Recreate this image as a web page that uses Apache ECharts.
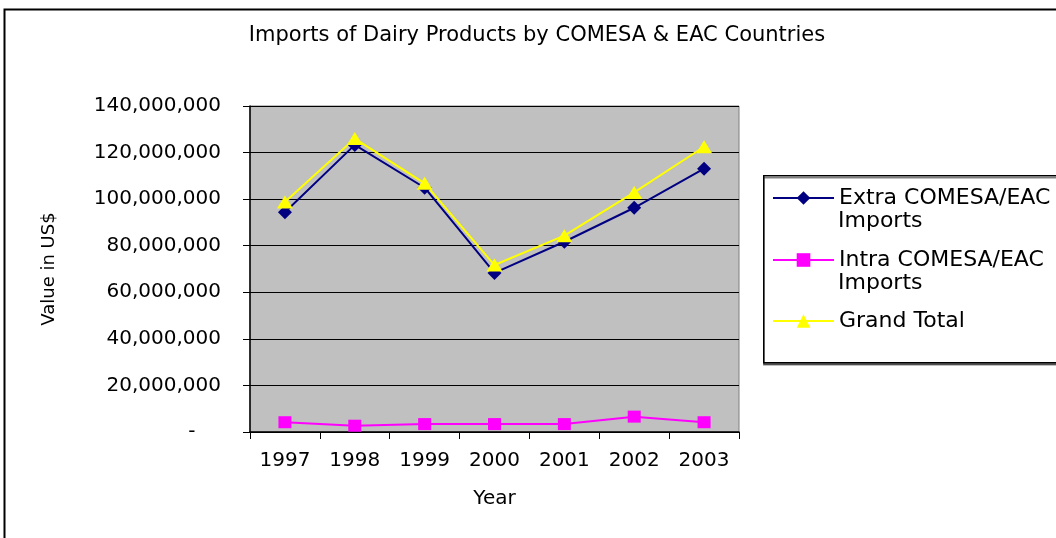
<!DOCTYPE html>
<html>
<head>
<meta charset="utf-8">
<script src="https://cdn.jsdelivr.net/npm/echarts@6/dist/echarts.min.js"></script>
<style>
  html, body { margin: 0; padding: 0; background: #fff; }
  #chart { width: 1056px; height: 538px; }
</style>
</head>
<body>
<div id="chart"></div>
<script>
// data
const years = ['1997', '1998', '1999', '2000', '2001', '2002', '2003'];
const extraImports = [94400000, 123300000, 104900000, 68300000, 81700000, 96300000, 113100000];
const intraImports = [4200000, 2700000, 3400000, 3400000, 3400000, 6600000, 4200000];
const grandTotal = [98800000, 126000000, 106800000, 71700000, 84300000, 102900000, 122500000];
const seriesNames = ['Extra COMESA/EAC Imports', 'Intra COMESA/EAC Imports', 'Grand Total'];

const font = 'DejaVu Sans';
const chart = echarts.init(document.getElementById('chart'));

// one legend per item so the symbol lines up with the first text line
const legendTops = [187, 249, 310];
const legendFirstLine = ['Extra COMESA/EAC', 'Intra COMESA/EAC', 'Grand Total'];

const option = {
  animation: false,
  title: {
    text: 'Imports of Dairy Products by COMESA & EAC Countries',
    left: 537,
    top: 25,
    textAlign: 'center',
    padding: 0,
    textStyle: { fontFamily: font, fontSize: 21, fontWeight: 'normal', color: '#000' }
  },
  legend: seriesNames.map((name, i) => ({
    data: [name],
    left: 772,
    top: legendTops[i],
    padding: 0,
    itemWidth: 61,
    itemHeight: 17,
    formatter: () => legendFirstLine[i],
    textStyle: { fontFamily: font, fontSize: 22, color: '#000' }
  })),
  graphic: [
    {
      type: 'rect', left: 2, top: 7, z: -10,
      shape: { width: 1100, height: 600 },
      style: { fill: 'none', stroke: '#000', lineWidth: 2 }
    },
    {
      type: 'rect', left: 763, top: 175, z: -10,
      shape: { width: 400, height: 187 },
      style: { fill: '#fff', stroke: '#000', lineWidth: 1.5, shadowColor: 'rgba(0,0,0,0.5)', shadowOffsetY: 2 }
    },
    { type: 'text', left: 838, top: 210, style: { text: 'Imports', font: '22px "DejaVu Sans"', fill: '#000' } },
    { type: 'text', left: 838, top: 272, style: { text: 'Imports', font: '22px "DejaVu Sans"', fill: '#000' } }
  ],
  grid: {
    left: 250,
    right: 317,
    top: 106,
    bottom: 106,
    show: true,
    backgroundColor: '#C0C0C0',
    borderColor: '#808080',
    borderWidth: 1
  },
  xAxis: {
    type: 'category',
    data: years,
    boundaryGap: true,
    name: 'Year',
    nameLocation: 'middle',
    nameGap: 57,
    nameTextStyle: { fontFamily: font, fontSize: 20, color: '#000' },
    axisLine: { lineStyle: { color: '#000', width: 1.5 } },
    axisTick: { show: true, length: 7, lineStyle: { color: '#000' } },
    axisLabel: { margin: 19, fontFamily: font, fontSize: 20, color: '#000' },
    splitLine: { show: false }
  },
  yAxis: {
    type: 'value',
    min: 0,
    max: 140000000,
    interval: 20000000,
    name: 'Value in US$',
    nameLocation: 'middle',
    nameRotate: 90,
    nameGap: 192,
    nameTextStyle: { fontFamily: font, fontSize: 18, color: '#000' },
    axisLine: { show: true, lineStyle: { color: '#000', width: 1.5 } },
    axisTick: { show: true, length: 7, lineStyle: { color: '#000' } },
    axisLabel: {
      margin: 29,
      fontFamily: font,
      fontSize: 20,
      color: '#000',
      formatter: function (value) {
        if (value === 0) {
          return '-    ';
        }
        return value.toLocaleString('en-US');
      }
    },
    splitLine: { show: true, lineStyle: { color: '#000', width: 1 } }
  },
  series: [
    {
      name: seriesNames[0],
      type: 'line',
      data: extraImports,
      symbol: 'diamond',
      symbolSize: 14,
      color: '#000080',
      lineStyle: { color: '#000080', width: 2 },
      itemStyle: { color: '#000080' }
    },
    {
      name: seriesNames[1],
      type: 'line',
      data: intraImports,
      symbol: 'rect',
      symbolSize: [13, 12],
      color: '#FF00FF',
      lineStyle: { color: '#FF00FF', width: 2 },
      itemStyle: { color: '#FF00FF' }
    },
    {
      name: seriesNames[2],
      type: 'line',
      data: grandTotal,
      symbol: 'triangle',
      symbolSize: [16, 13],
      color: '#FFFF00',
      lineStyle: { color: '#FFFF00', width: 2 },
      itemStyle: { color: '#FFFF00' }
    }
  ]
};

chart.setOption(option);
</script>
</body>
</html>
